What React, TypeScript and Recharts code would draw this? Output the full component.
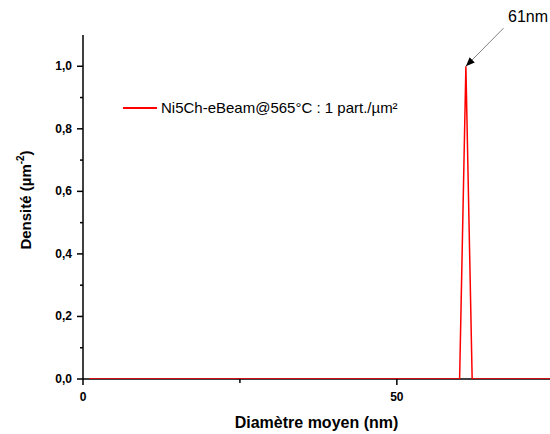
import React from "react";
import {
  LineChart, Line, XAxis, YAxis, ReferenceLine, ReferenceDot,
} from "recharts";

// diameter (nm) and density (µm^-2)
const diameters = [1, 60, 61, 62, 75];
const densities = [0, 0, 1, 0, 0];

const xTicks = [0, 25, 50];
const xLabels: Record<number, string> = { 0: "0", 50: "50" };
const yTicks = [0, 0.1, 0.2, 0.3, 0.4, 0.5, 0.6, 0.7, 0.8, 0.9, 1.0];
const yLabels: Record<number, string> = { 0: "0,0", 0.2: "0,2", 0.4: "0,4", 0.6: "0,6", 0.8: "0,8", 1: "1,0" };

const seriesName = "Ni5Ch-eBeam@565°C : 1 part./µm²";
const peakLabel = "61nm";
const peakX = 61;
const peakY = 1;

const data = diameters.map((d, i) => ({ d, v: densities[i] }));

const FONT = "'Liberation Sans', Arial, sans-serif";

function YTick(props: any) {
  const { x, y, payload } = props;
  const label = yLabels[Math.round(payload.value * 10) / 10];
  return (
    <g>
      <line x1={x - (label ? 6 : 3)} x2={x} y1={y} y2={y} stroke="#000" strokeWidth={1.5} />
      {label && (
        <text x={x - 11} y={y + 4} textAnchor="end" fontFamily={FONT} fontWeight="bold" fontSize={12} fill="#000">
          {label}
        </text>
      )}
    </g>
  );
}

function XTick(props: any) {
  const { x, y, payload } = props;
  const label = xLabels[payload.value];
  return (
    <g>
      <line x1={x} x2={x} y1={y} y2={y + (label ? 6 : 4)} stroke="#000" strokeWidth={1.5} />
      {label && (
        <text x={x} y={y + 22} textAnchor="middle" fontFamily={FONT} fontWeight="bold" fontSize={12} fill="#000">
          {label}
        </text>
      )}
    </g>
  );
}

export default function App() {
  return (
    <div style={{ position: "absolute", left: 0, top: 0, width: 550, height: 434, background: "#fff" }}>
      <LineChart width={550} height={434} data={data} margin={{ top: 35, right: 0, bottom: 0, left: 0 }}>
        <defs>
          <marker id="arrowHead" viewBox="0 0 10 10" refX="10" refY="5" markerWidth="9" markerHeight="9" orient="auto" markerUnits="userSpaceOnUse">
            <path d="M0,1 L10,5 L0,9 z" fill="#000" />
          </marker>
        </defs>
        <XAxis
          dataKey="d"
          type="number"
          domain={[0, 74.4]}
          ticks={xTicks}
          allowDataOverflow
          axisLine={false}
          tickSize={0}
          tickMargin={0}
          tickLine={false}
          tick={<XTick />}
          height={55}
          label={{ value: "Diamètre moyen (nm)", position: "insideBottom", offset: 6, fontFamily: FONT, fontWeight: "bold", fontSize: 16, fill: "#000" }}
        />
        <YAxis
          type="number"
          domain={[0, 1.1]}
          ticks={yTicks}
          allowDataOverflow
          stroke="#000"
          strokeWidth={1.5}
          tickSize={0}
          tickMargin={0}
          tickLine={false}
          tick={<YTick />}
          width={83}
          label={(p: any) => {
            const vb = p.viewBox;
            const cy = vb.y + vb.height / 2 - 7;
            return (
              <text x={31} y={cy} transform={`rotate(-90 31 ${cy})`} textAnchor="middle" fontFamily={FONT} fontWeight="bold" fontSize={15} fill="#000">
                Densité (µm<tspan dy={-7} fontSize={10}>-2</tspan><tspan dy={7}>)</tspan>
              </text>
            );
          }}
        />
        <ReferenceLine y={0} stroke="#000" strokeWidth={1.5} />
        <Line
          type="linear"
          dataKey="v"
          name={seriesName}
          stroke="#ff0000"
          strokeWidth={1.5}
          dot={false}
          activeDot={false}
          isAnimationActive={false}
        />
        <ReferenceLine
          segment={[{ x: 67.0, y: 1.122 }, { x: peakX, y: peakY }]}
          stroke="#808080"
          strokeWidth={1}
          markerEnd="url(#arrowHead)"
          ifOverflow="visible"
        />
        <ReferenceDot
          x={70.9}
          y={1.16}
          r={0}
          ifOverflow="visible"
          label={{ value: peakLabel, position: "center", fontFamily: FONT, fontSize: 16, fill: "#000" }}
        />
      </LineChart>
      <div style={{ position: "absolute", left: 123, top: 99, display: "flex", alignItems: "center", fontFamily: FONT, fontSize: 15, color: "#000", whiteSpace: "nowrap" }}>
        <div style={{ width: 34, height: 2, background: "#ff0000", marginRight: 4 }} />
        <span>{seriesName}</span>
      </div>
    </div>
  );
}
